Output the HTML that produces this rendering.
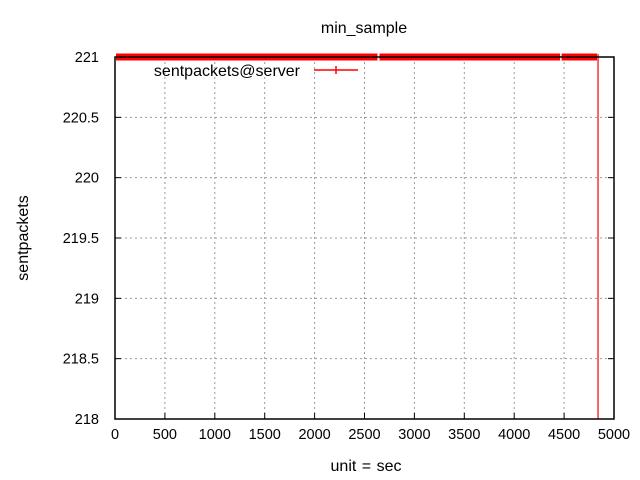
<!DOCTYPE html>
<html><head><meta charset="utf-8"><style>
body{margin:0;background:#fff}
svg{display:block;font-family:"Liberation Sans",sans-serif}
</style></head><body>
<svg id="chart" width="640" height="480">
<text x="364" y="33" font-size="16" text-anchor="middle">min_sample</text>
<text x="366" y="471" font-size="16" word-spacing="1" text-anchor="middle">unit = sec</text>
<text transform="translate(28,238) rotate(-90)" font-size="16" text-anchor="middle">sentpackets</text>
<g id="grid"></g><g id="ticks"></g><g id="series"></g>
<rect x="115" y="57" width="499" height="362" fill="none" stroke="#000" stroke-width="1.5"/>
<g>
<text x="300" y="76" font-size="16" text-anchor="end">sentpackets@server</text>
<line x1="314" y1="70" x2="358" y2="70" stroke="#f00" stroke-width="1.5"/>
<line x1="336" y1="66" x2="336" y2="74" stroke="#f00" stroke-width="1.5"/>
</g>
</svg>
<script>
const xTicks=[0,500,1000,1500,2000,2500,3000,3500,4000,4500,5000];
const yTicks=[218,218.5,219,219.5,220,220.5,221];
const yTickLabels=["218","218.5","219","219.5","220","220.5","221"];
const segStarts=[10,2650,4475];
const segEnds=[2630,4460,4830];
const segValues=[221,221,221];
const dropX=[4840];
const dropFrom=[221];
const dropTo=[218];
const X0=115,X1=614,Y0=419,Y1=57;
const sx=v=>X0+(v-0)/(5000-0)*(X1-X0);
const sy=v=>Y0-(v-218)/(221-218)*(Y0-Y1);
const NS="http://www.w3.org/2000/svg";
const grid=document.getElementById('grid'),ticks=document.getElementById('ticks'),ser=document.getElementById('series');
function mk(tag,attrs,parent){const e=document.createElementNS(NS,tag);for(const k in attrs)e.setAttribute(k,attrs[k]);parent.appendChild(e);return e;}
xTicks.forEach((t,i)=>{const x=sx(t);
 if(i>0&&i<xTicks.length-1){const g=mk('line',{x1:x,y1:Y0,x2:x,y2:Y1,stroke:'#999','stroke-dasharray':'2,3'},grid);
 
 }
 const tk=mk('line',{x1:x,y1:Y0,x2:x,y2:Y0-6,stroke:'#000'},ticks);
 
 
 const lb=mk('text',{x:x,y:Y0+20,'font-size':14.5,'text-anchor':'middle'},ticks);lb.textContent=t;
 
 
});
yTicks.forEach((t,i)=>{const y=sy(t);
 if(i>0&&i<yTicks.length-1){const g=mk('line',{x1:X0,y1:y,x2:X1,y2:y,stroke:'#999','stroke-dasharray':'2,3'},grid);
 
 }
 const tk=mk('line',{x1:X0,y1:y,x2:X0+6,y2:y,stroke:'#000'},ticks);
 
 
 const tk2=mk('line',{x1:X1,y1:y,x2:X1-6,y2:y,stroke:'#000'},ticks);
 
 
 const lb=mk('text',{x:X0-16,y:y+5,'font-size':14.5,'text-anchor':'end'},ticks);lb.textContent=yTickLabels[i];
 
 
});
segStarts.forEach((s,i)=>{
 const l=mk('line',{x1:sx(s),y1:sy(segValues[i]),x2:sx(segEnds[i]),y2:sy(segValues[i]),stroke:'#f00','stroke-width':7},ser);
 
 
});
dropX.forEach((d,i)=>{
 const l=mk('line',{x1:sx(d),y1:sy(dropFrom[i])-3,x2:sx(d),y2:sy(dropTo[i]),stroke:'#f00','stroke-width':1.2},ser);
 
 
});
</script>
</body></html>
